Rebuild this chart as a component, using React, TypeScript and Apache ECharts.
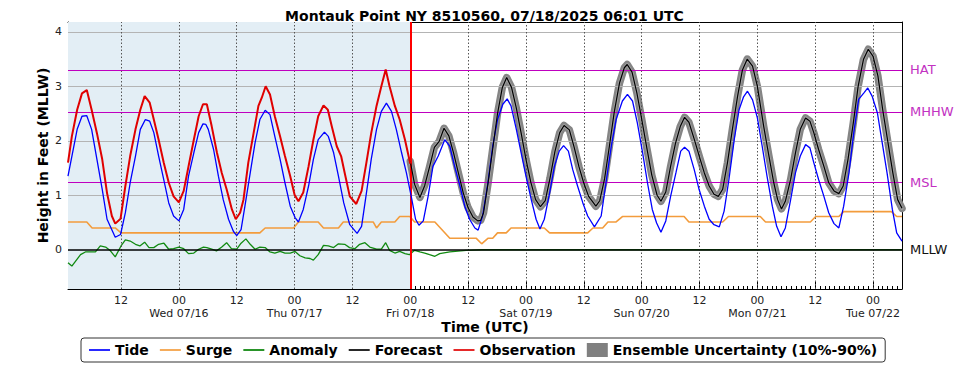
import React, { useEffect, useRef } from 'react';
import * as echarts from 'echarts';

// x values are hours since 2025-07-15 00:00 UTC
const tickHours = [12, 24, 36, 48, 60, 72, 84, 96, 108, 120, 132, 144, 156, 168];
const dayNames = ['Wed 07/16', 'Thu 07/17', 'Fri 07/18', 'Sat 07/19', 'Sun 07/20', 'Mon 07/21', 'Tue 07/22'];
const yTicks = [0, 1, 2, 3, 4];
const yGrid = [1, 2, 3, 4];

const levelNames = ['HAT', 'MHHW', 'MSL', 'MLLW'];
const levelValues = [3.3, 2.53, 1.23, 0];

const nowHour = 72;

const tide: [number, number][] = [
  [1, 1.35], [2.9, 2.21], [3.9, 2.45], [4.9, 2.46], [5.9, 2.21], [7.0, 1.66], [8.1, 1.11], [9.1, 0.56], [10.8, 0.23], [11.9, 0.28],
  [12.9, 0.68], [13.9, 1.23], [15.0, 1.72], [16.0, 2.21], [17.05, 2.39], [17.95, 2.36], [18.8, 2.15], [19.8, 1.72], [20.85, 1.29], [21.9, 0.86],
  [22.9, 0.62], [24.0, 0.53], [25.0, 0.74], [26.0, 1.35], [27.1, 1.78], [28.1, 2.15], [29.0, 2.31], [29.6, 2.3], [30.1, 2.21], [31.2, 1.84],
  [32.2, 1.35], [33.2, 0.92], [34.3, 0.56], [35.3, 0.34], [36.0, 0.26], [36.9, 0.37], [37.7, 0.8], [38.8, 1.41], [39.8, 1.96], [40.8, 2.39],
  [41.9, 2.56], [42.9, 2.48], [43.9, 2.08], [45.0, 1.66], [46.0, 1.23], [47.1, 0.8], [48.1, 0.59], [48.8, 0.51], [49.8, 0.74], [50.9, 1.17],
  [51.9, 1.66], [52.9, 2.02], [54.2, 2.16], [55.0, 2.08], [56.1, 1.78], [57.1, 1.35], [58.2, 0.86], [59.45, 0.46], [60.97, 0.3], [61.9, 0.43],
  [62.9, 1.04], [63.9, 1.66], [65.0, 2.21], [66.0, 2.54], [67.05, 2.69], [68.1, 2.54], [69.1, 2.21], [70.2, 1.78], [71.2, 1.41], [72.2, 0.98],
  [73.1, 0.56], [73.8, 0.45], [74.7, 0.53], [75.7, 0.98], [76.7, 1.53], [77.8, 1.72], [79.15, 2.02], [80.2, 1.9], [81.2, 1.53], [82.3, 1.17],
  [83.3, 0.8], [84.3, 0.56], [85.4, 0.4], [86.07, 0.36], [87.0, 0.62], [88.1, 1.23], [89.1, 1.9], [90.1, 2.39], [91.2, 2.67], [92.1, 2.77],
  [92.9, 2.64], [94.0, 2.21], [95.0, 1.78], [96.0, 1.35], [97.1, 0.92], [98.1, 0.56], [98.9, 0.38], [99.8, 0.56], [100.9, 1.04], [101.9, 1.53],
  [102.9, 1.81], [103.8, 1.91], [104.8, 1.81], [105.7, 1.47], [106.7, 1.17], [107.8, 0.86], [108.8, 0.62], [110.2, 0.42], [111.6, 0.62], [112.6, 1.23],
  [113.7, 1.9], [114.7, 2.39], [116.0, 2.73], [117.05, 2.85], [118.1, 2.73], [119.1, 2.33], [120.2, 1.78], [121.2, 1.23], [122.2, 0.74], [123.1, 0.49],
  [124.0, 0.32], [125.0, 0.53], [126.0, 0.98], [127.1, 1.41], [128.1, 1.81], [128.9, 1.88], [129.8, 1.81], [130.9, 1.47], [131.9, 1.11], [133.0, 0.8],
  [134.0, 0.56], [135.0, 0.46], [136.1, 0.42], [137.1, 0.71], [138.1, 1.29], [139.2, 2.02], [140.2, 2.57], [141.1, 2.8], [141.95, 2.91], [143.0, 2.75],
  [144.0, 2.42], [145.0, 1.9], [146.0, 1.35], [147.1, 0.8], [148.0, 0.43], [148.9, 0.24], [149.8, 0.4], [150.9, 0.92], [151.9, 1.41], [152.9, 1.72],
  [154.0, 1.93], [154.9, 1.87], [155.7, 1.6], [156.7, 1.29], [157.8, 0.98], [158.8, 0.68], [159.9, 0.48], [160.9, 0.4], [161.9, 0.8], [163.0, 1.41],
  [164.0, 2.15], [165.0, 2.76], [166.1, 2.88], [166.9, 2.97], [167.8, 2.82], [168.9, 2.51], [169.9, 1.96], [170.9, 1.41], [172.0, 0.74], [172.9, 0.31],
  [174.0, 0.16],
];

const observation: [number, number][] = [
  [1.0, 1.6], [1.8, 2.08], [2.9, 2.57], [3.9, 2.87], [4.9, 2.93], [5.9, 2.57], [7.0, 2.14], [8.1, 1.66], [9.1, 1.04], [10.1, 0.62],
  [10.8, 0.48], [11.9, 0.57], [12.9, 1.17], [13.9, 1.72], [15.0, 2.21], [16.0, 2.57], [16.9, 2.82], [17.95, 2.7], [18.8, 2.39], [19.8, 2.02],
  [20.85, 1.6], [21.9, 1.23], [22.9, 0.98], [24.0, 0.87], [25.0, 1.08], [26.0, 1.53], [27.1, 2.02], [28.1, 2.45], [29.0, 2.67], [29.8, 2.67],
  [30.8, 2.27], [31.9, 1.78], [32.9, 1.41], [33.9, 1.11], [35.0, 0.74], [35.8, 0.56], [36.7, 0.68], [37.4, 0.92], [38.4, 1.6], [39.5, 2.14],
  [40.5, 2.64], [41.2, 2.79], [42.0, 3.0], [42.9, 2.85], [43.9, 2.45], [45.0, 2.08], [46.0, 1.72], [47.1, 1.35], [48.0, 1.01], [48.8, 0.89],
  [49.8, 1.05], [50.9, 1.53], [51.9, 2.02], [52.9, 2.45], [54.0, 2.65], [54.9, 2.57], [55.7, 2.27], [56.75, 1.9], [57.65, 1.72], [58.4, 1.41],
  [59.45, 0.98], [60.8, 0.84], [61.9, 1.08], [62.9, 1.6], [63.9, 2.14], [65.0, 2.64], [66.0, 3.0], [66.9, 3.31], [67.7, 3.0], [68.8, 2.64],
  [69.8, 2.39], [70.9, 2.02], [72.0, 1.58],
];

const surge: [number, number][] = [
  [1, 0.51], [4.9, 0.51], [6.0, 0.4], [10.8, 0.4], [12.0, 0.31], [40.8, 0.31], [41.9, 0.4], [47.8, 0.4], [48.8, 0.51], [52.9, 0.51],
  [54.0, 0.4], [57.1, 0.4], [58.1, 0.51], [64.3, 0.51], [65.0, 0.4], [66.0, 0.51], [68.8, 0.51], [69.8, 0.61], [71.9, 0.61], [72.9, 0.51],
  [77.1, 0.51], [80.2, 0.21], [85.7, 0.21], [86.8, 0.11], [88.1, 0.21], [89.1, 0.21], [90.1, 0.31], [91.9, 0.31], [92.9, 0.4], [99.8, 0.4],
  [100.9, 0.31], [108.8, 0.31], [109.9, 0.4], [111.9, 0.4], [113.0, 0.51], [114.7, 0.51], [116.0, 0.61], [128.8, 0.61], [129.8, 0.51], [136.8, 0.51],
  [138.0, 0.61], [144.6, 0.61], [145.7, 0.51], [155.0, 0.51], [156.1, 0.61], [160.9, 0.61], [161.9, 0.7], [171.8, 0.7], [172.9, 0.61], [174, 0.61],
];

const anomaly: [number, number][] = [
  [1.0, -0.24], [1.8, -0.3], [3.6, -0.09], [4.6, -0.04], [6.7, -0.04], [7.7, 0.07], [8.8, 0.05], [9.8, -0.02], [10.8, -0.13], [12.0, 0.07],
  [12.9, 0.18], [13.9, 0.16], [15.0, 0.1], [15.9, 0.07], [16.9, 0.14], [17.8, 0.04], [18.8, 0.04], [19.8, 0.1], [20.9, 0.12], [21.9, 0.01],
  [22.9, 0.02], [24.0, 0.05], [25.0, 0.02], [26.0, -0.07], [27.1, -0.06], [28.1, 0.01], [29.1, 0.05], [29.8, 0.04], [30.8, 0.01], [31.8, -0.02],
  [32.9, 0.05], [33.9, 0.13], [34.9, 0.02], [36.0, 0.01], [36.9, 0.12], [37.9, 0.2], [38.8, 0.1], [39.8, 0.01], [40.8, 0.05], [41.9, 0.04],
  [42.9, -0.04], [43.9, -0.06], [45.0, -0.03], [46.0, -0.06], [47.1, -0.06], [48.1, -0.03], [49.1, -0.11], [50.2, -0.15], [51.2, -0.16], [51.9, -0.19],
  [52.9, -0.09], [54.0, 0.08], [55.0, 0.07], [56.1, 0.04], [57.1, 0.11], [58.4, 0.1], [59.4, 0.04], [60.5, 0.02], [61.5, 0.1], [62.6, 0.13],
  [63.6, 0.05], [65.0, 0.01], [66.0, 0.01], [66.9, 0.13], [67.7, -0.01], [68.8, -0.06], [69.8, -0.03], [70.9, -0.07], [71.8, -0.09], [72.9, -0.01],
  [74.0, -0.04], [75.0, -0.06], [76.0, -0.09], [77.1, -0.12], [78.1, -0.07], [80.2, -0.04], [83.6, -0.01], [86.8, 0], [174, 0],
];

const forecast: [number, number][] = [
  [72.0, 1.62], [72.9, 1.2], [74.0, 0.96], [75.0, 1.18], [76.0, 1.52], [77.0, 1.88], [78.0, 1.99], [79.0, 2.23], [80.0, 2.09], [81.0, 1.77],
  [82.0, 1.4], [83.0, 1.04], [84.0, 0.77], [85.0, 0.6], [86.0, 0.53], [86.6, 0.54], [87.2, 0.68], [88.1, 1.2], [89.1, 1.85], [90.1, 2.5],
  [91.1, 2.98], [92.0, 3.16], [93.0, 2.98], [94.0, 2.6], [95.0, 2.14], [96.0, 1.66], [97.0, 1.24], [98.0, 0.92], [99.0, 0.79], [100.0, 0.9],
  [101.0, 1.32], [102.0, 1.8], [103.0, 2.15], [103.9, 2.28], [105.0, 2.2], [106.0, 1.88], [107.0, 1.52], [108.0, 1.22], [109.0, 0.98], [110.5, 0.8],
  [111.3, 0.9], [112.3, 1.3], [113.3, 1.9], [114.3, 2.52], [115.4, 3.06], [116.4, 3.34], [117.0, 3.4], [118.0, 3.26], [119.0, 2.88], [120.0, 2.4],
  [121.1, 1.85], [122.1, 1.37], [123.2, 1.0], [124.0, 0.89], [125.0, 1.06], [126.0, 1.53], [127.0, 1.95], [128.0, 2.26], [128.9, 2.43], [129.8, 2.34],
  [130.9, 2.03], [132.0, 1.7], [133.0, 1.41], [134.0, 1.17], [135.0, 1.02], [135.9, 0.98], [136.8, 1.11], [137.8, 1.6], [138.8, 2.2], [139.9, 2.82],
  [140.9, 3.3], [141.9, 3.5], [143.0, 3.37], [144.0, 3.0], [145.3, 2.27], [146.4, 1.72], [147.4, 1.23], [148.2, 0.92], [149.0, 0.75], [149.8, 0.89],
  [150.9, 1.29], [151.9, 1.78], [152.9, 2.21], [154.0, 2.42], [154.9, 2.36], [155.7, 2.15], [156.7, 1.84], [157.8, 1.53], [158.8, 1.23], [159.9, 1.08],
  [160.9, 1.03], [161.8, 1.17], [162.8, 1.66], [163.9, 2.33], [164.9, 3.0], [166.0, 3.49], [167.0, 3.68], [168.0, 3.55], [169.0, 3.19], [170.0, 2.57],
  [171.1, 1.96], [172.1, 1.41], [173.1, 0.92], [174.0, 0.76],
];

const X_MIN = 1;
const X_MAX = 174;
const Y_MIN = -0.72;
const Y_MAX = 4.18;
const FONT = 'DejaVu Sans';

const hourTicks: number[] = [];
for (let h = X_MIN; h <= X_MAX; h++) hourTicks.push(h);

const ENS_NAME = 'Ensemble Uncertainty (10%-90%)';
const lineIcon = 'path://M0,0H20V1.6H0Z';

export default function App() {
  const ref = useRef<HTMLDivElement>(null);
  useEffect(() => {
    if (!ref.current) return;
    const chart = echarts.init(ref.current, undefined, { renderer: 'svg' });
    const vGridItems: any[] = tickHours.map((h) => ({
      name: 'gx' + h, xAxis: h,
      lineStyle: { color: '#555555', width: 1, type: [1.5, 2] },
      label: { show: false },
    }));
    const hGridItems: any[] = yGrid.map((v) => ({
      name: 'gy' + v, yAxis: v,
      lineStyle: { color: '#b4b4b4', width: 1, type: 'solid' },
      label: { show: false },
    }));
    const levelItems: any[] = levelNames.map((n, i) => ({
      name: n,
      yAxis: levelValues[i],
      lineStyle: { color: n === 'MLLW' ? '#000000' : '#bf00bf', width: n === 'MLLW' ? 1.5 : 1.2, type: 'solid' },
      label: {
        show: true, position: 'end', formatter: n, distance: 8,
        color: n === 'MLLW' ? '#111111' : '#c232c2', fontSize: 13, fontFamily: FONT,
      },
    }));
    const option: any = {
      animation: false,
      backgroundColor: '#ffffff',
      textStyle: { fontFamily: FONT },
      title: {
        text: 'Montauk Point NY 8510560, 07/18/2025 06:01 UTC',
        left: 'center',
        top: 4,
        textStyle: { fontFamily: FONT, fontWeight: 'bold', fontSize: 14, color: '#000' },
      },
      grid: { left: 68, top: 22, width: 834, height: 267, containLabel: false },
      legend: {
        left: 81,
        top: 338,
        padding: [5, 8],
        itemGap: 11,
        itemWidth: 21,
        itemHeight: 14,
        borderColor: '#333',
        borderWidth: 1,
        borderRadius: 3,
        textStyle: { fontFamily: FONT, fontWeight: 'bold', fontSize: 14, color: '#000' },
        data: [
          { name: 'Tide', icon: lineIcon },
          { name: 'Surge', icon: lineIcon },
          { name: 'Anomaly', icon: lineIcon },
          { name: 'Forecast', icon: lineIcon },
          { name: 'Observation', icon: lineIcon },
          { name: ENS_NAME, icon: 'rect' },
        ],
      },
      xAxis: [
        {
          type: 'value', min: X_MIN, max: X_MAX, position: 'bottom',
          name: 'Time (UTC)', nameLocation: 'middle', nameGap: 31, nameMoveOverlap: false,
          nameTextStyle: { fontFamily: FONT, fontWeight: 'bold', fontSize: 14, color: '#000' },
          axisLine: { show: true, onZero: false, lineStyle: { color: '#000', width: 1 } },
          axisTick: { show: true, inside: true, length: 7, customValues: tickHours, lineStyle: { color: '#000' } },
          axisLabel: {
            show: true, customValues: tickHours, margin: 5, color: '#222', fontSize: 11, fontFamily: FONT, lineHeight: 13,
            formatter: (v: number) => {
              const h = Math.round(v);
              if (h % 24 === 12) return '12';
              return '00\n' + dayNames[h / 24 - 1];
            },
          },
          splitLine: { show: false },
        },
        {
          type: 'value', min: X_MIN, max: X_MAX, position: 'bottom',
          axisLine: { show: false, onZero: false },
          axisTick: { show: true, inside: true, length: 3, customValues: hourTicks, lineStyle: { color: '#000' } },
          axisLabel: { show: false },
          splitLine: { show: false },
        },
        {
          type: 'value', min: X_MIN, max: X_MAX, position: 'top',
          axisLine: { show: true, onZero: false, lineStyle: { color: '#000', width: 1 } },
          axisTick: { show: false },
          axisLabel: { show: false },
          splitLine: { show: false },
        },
      ],
      yAxis: [
        {
          type: 'value', min: Y_MIN, max: Y_MAX, position: 'left',
          name: 'Height in Feet (MLLW)', nameLocation: 'middle', nameGap: 18, nameMoveOverlap: false,
          nameTextStyle: { fontFamily: FONT, fontWeight: 'bold', fontSize: 14, color: '#000' },
          axisLine: { show: true, onZero: false, lineStyle: { color: '#000', width: 1 } },
          axisTick: { show: true, inside: true, length: 5, customValues: yTicks, lineStyle: { color: '#000' } },
          axisLabel: { show: true, customValues: yTicks, margin: 6, color: '#222', fontSize: 11, fontFamily: FONT },
          splitLine: { show: false },
        },
        {
          type: 'value', min: Y_MIN, max: Y_MAX, position: 'right',
          axisLine: { show: true, onZero: false, lineStyle: { color: '#000', width: 1 } },
          axisTick: { show: false },
          axisLabel: { show: false },
          splitLine: { show: false },
        },
      ],
      series: [
        {
          name: 'bg', type: 'line', data: [], z: 0, silent: true, symbol: 'none',
          markArea: {
            silent: true,
            itemStyle: { color: '#e3eef5' },
            data: [[{ xAxis: X_MIN }, { xAxis: nowHour }]],
          },
        },
        {
          name: 'grid', type: 'line', data: [], z: 1, silent: true, symbol: 'none',
          markLine: {
            silent: true, symbol: ['none', 'none'],
            data: [...hGridItems, ...vGridItems],
          },
        },
        {
          name: 'levels', type: 'line', data: [], z: 2, silent: true, symbol: 'none',
          markLine: {
            silent: true, symbol: ['none', 'none'],
            data: levelItems,
          },
        },
        {
          name: ENS_NAME, type: 'line', data: forecast, symbol: 'none', z: 3,
          itemStyle: { color: '#808080' },
          lineStyle: { color: '#858585', width: 7.5, join: 'round', cap: 'round' },
        },
        {
          name: 'ens-inner', type: 'line', data: forecast, symbol: 'none', z: 3,
          itemStyle: { color: '#a0a0a0' },
          lineStyle: { color: '#a0a0a0', width: 3, join: 'round', cap: 'round' },
        },
        {
          name: 'Surge', type: 'line', data: surge, symbol: 'none', z: 4,
          itemStyle: { color: '#f39c3c' }, lineStyle: { color: '#f39c3c', width: 1.6 },
        },
        {
          name: 'Anomaly', type: 'line', data: anomaly, symbol: 'none', z: 4,
          itemStyle: { color: '#008000' }, lineStyle: { color: '#118a11', width: 1.3 },
        },
        {
          name: 'Tide', type: 'line', data: tide, symbol: 'none', z: 5,
          itemStyle: { color: '#0000ff' }, lineStyle: { color: '#0000ff', width: 1.3 },
        },
        {
          name: 'Forecast', type: 'line', data: forecast, symbol: 'none', z: 6,
          itemStyle: { color: '#000' }, lineStyle: { color: '#000', width: 1.2 },
        },
        {
          name: 'Observation', type: 'line', data: observation, symbol: 'none', z: 7,
          itemStyle: { color: '#e00000' }, lineStyle: { color: '#e00000', width: 2 },
        },
        {
          name: 'now', type: 'line', data: [], z: 8, silent: true, symbol: 'none',
          markLine: {
            silent: true, symbol: ['none', 'none'], label: { show: false },
            lineStyle: { color: '#ff0000', width: 2, type: 'solid' },
            data: [{ xAxis: nowHour }],
          },
        },
      ],
    };
    chart.setOption(option);
    return () => chart.dispose();
  }, []);
  return <div ref={ref} style={{ position: 'fixed', left: 0, top: 0, width: 969, height: 370 }} />;
}
